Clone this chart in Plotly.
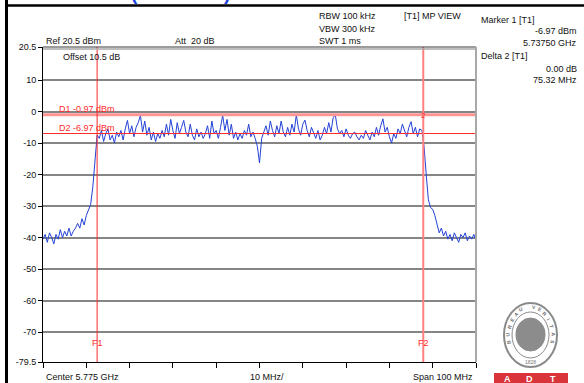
import math
import plotly.graph_objects as go

# ---------------- data ----------------
center_ghz = 5.775
span_ghz = 0.100
step_mhz = 0.5
# trace level (dBm) every 0.5 MHz from start (5.725 GHz) to stop (5.825 GHz)
level_lower_skirt = [-40.5, -39, -41.5, -38.5, -40, -42, -39, -40.5, -37.5, -40, -38, -39.5, -37, -39.5,
                     -38, -37, -35.5, -37, -34, -36, -33, -31, -29.5, -24, -16, -7.5]
level_in_band = [
    -8.5, -6, -9.5, -7, -5.5, -9, -7.5, -10, -6.5, -8,
    -6, -9, -5.5, -2.8, -7, -4.5, -8, -5, -3.5, -1.2,
    -6.5, -3, -7.5, -5, -9, -6.5, -9.5, -7, -8.5, -6,
    -8, -4, -7.5, -2.5, -6, -8.5, -3.5, -7, -5, -2.8,
    -6.5, -8, -4, -7.5, -9, -5.5, -8, -6.5, -8.5, -7,
    -4.5, -8.5, -3, -7, -6, -8.5, -5, -1.2, -6, -2.5,
    -7.5, -4, -8.5, -6.5, -9, -7, -8.5, -6, -7.5, -4,
    -8, -6.5, -8.5, -11, -16.3, -8.5, -6.5, -4.5, -7.5, -3,
    -6, -8, -4.5, -7, -3, -6.5, -8, -5, -7.5, -4,
    -6.5, -1, -5.5, -7.5, -4, -2.7, -6, -8, -5, -7,
    -8.5, -6, -9, -7.5, -5, -7, -3.5, -6.5, -2, -1,
    -5.5, -7, -6, -8, -5.5, -7.5, -8.5, -7, -6.5, -8,
    -9, -7.5, -8.5, -6, -7.5, -9, -6.5, -8, -5, -7.5,
    -4.5, -2.3, -6.5, -5, -8, -10, -7, -8.5, -5.5, -7,
    -4, -6, -8, -5, -3.2, -7, -5, -8, -5.5, -6,
]
level_upper_skirt = [-11, -20, -28, -30.5, -31, -33, -36, -38.5, -37, -39.5,
                     -38, -40.5, -39, -41, -38.5, -40, -41.5, -39, -40, -38.5, -41, -39.5, -40.5, -39, -41]
levels = level_lower_skirt + level_in_band + level_upper_skirt

ref_level = 20.5
bottom_level = -79.5
y_ticks = [20.5, 10, 0, -10, -20, -30, -40, -50, -60, -70, -79.5]
y_ticktext = ["20.5", "10", "0", "-10", "-20", "-30", "-40", "-50", "-60", "-70", "-79.5"]

d1_level = -0.97
d2_level = -6.97
f1_ghz = 5.73750
f2_ghz = 5.73750 + 0.07532

start = center_ghz - span_ghz / 2
stop = center_ghz + span_ghz / 2
freqs = [start + i * step_mhz / 1000 for i in range(len(levels))]
x_ticks = [start + i * 0.01 for i in range(11)]

# ---------------- layout helpers ----------------
W, H = 584, 383
L, R, T, B = 43, 476, 47, 362


def px(x):
    return (x - L) / (R - L)


def py(y):
    return (B - y) / (B - T)


FONT = "Liberation Sans, Arial, sans-serif"
RED = "#ff2a2a"
PINK = "#ff9494"

fig = go.Figure()
fig.add_trace(go.Scatter(x=freqs, y=levels, mode="lines",
                         line=dict(color="#2342d6", width=1), hoverinfo="skip",
                         showlegend=False))

shapes = []
# D1 / D2 lines
shapes.append(dict(type="line", xref="paper", yref="y", x0=0, x1=1, y0=d1_level, y1=d1_level,
                   line=dict(color=PINK, width=3)))
shapes.append(dict(type="line", xref="paper", yref="y", x0=0, x1=1, y0=d2_level, y1=d2_level,
                   line=dict(color=RED, width=1)))
# F1 / F2 lines
shapes.append(dict(type="line", xref="x", yref="paper", x0=f1_ghz, x1=f1_ghz, y0=0, y1=1,
                   line=dict(color=RED, width=1)))
shapes.append(dict(type="line", xref="x", yref="paper", x0=f2_ghz, x1=f2_ghz, y0=0, y1=1,
                   line=dict(color="#ff8080", width=2)))
# top frame (double line)
shapes.append(dict(type="line", xref="paper", yref="paper", x0=0, x1=1, y0=1, y1=1,
                   line=dict(color="#3a3a3a", width=1.2)))
shapes.append(dict(type="line", xref="paper", yref="paper", x0=0, x1=1, y0=py(T + 2), y1=py(T + 2),
                   line=dict(color="#a8a8a8", width=1.5)))
# right frame
shapes.append(dict(type="line", xref="paper", yref="paper", x0=1, x1=1, y0=0, y1=1,
                   line=dict(color="#a8a8a8", width=2)))
# outer black border lines
shapes.append(dict(type="line", xref="paper", yref="paper", x0=px(6.5), x1=px(6.5), y0=py(0), y1=py(H),
                   line=dict(color="#000000", width=3)))
shapes.append(dict(type="line", xref="paper", yref="paper", x0=px(6.5), x1=px(W), y0=py(5.5), y1=py(5.5),
                   line=dict(color="#000000", width=2.5)))
# logo
shapes.append(dict(type="circle", xref="paper", yref="paper", x0=px(504), x1=px(557), y0=py(367), y1=py(303),
                   line=dict(color="#8a8a8a", width=2), fillcolor="#ffffff"))
shapes.append(dict(type="circle", xref="paper", yref="paper", x0=px(512), x1=px(549), y0=py(358), y1=py(312),
                   line=dict(color="#8a8a8a", width=1), fillcolor="#ffffff"))
shapes.append(dict(type="circle", xref="paper", yref="paper", x0=px(516), x1=px(545), y0=py(351), y1=py(318),
                   line=dict(color="#8a8a8a", width=1), fillcolor="#8c8c8c"))
shapes.append(dict(type="rect", xref="paper", yref="paper", x0=px(494), x1=px(568), y0=py(384), y1=py(373),
                   line=dict(width=0), fillcolor="#d9343a"))
fig.update_layout(shapes=shapes)

ann = []


def text(x, y, s, anchor="left", size=9, color="#111111", angle=0):
    ann.append(dict(xref="paper", yref="paper", x=px(x), y=py(y), text=s, showarrow=False,
                    xanchor=anchor, yanchor="middle", font=dict(family=FONT, size=size, color=color),
                    borderpad=0, textangle=angle))


text(45, 41, "Ref 20.5 dBm")
text(174, 41, "Att  20 dB")
text(62, 57, "Offset 10.5 dB")
text(318, 16, "RBW 100 kHz")
text(318, 29, "VBW 300 kHz")
text(318, 41, "SWT 1 ms")
text(403, 16, "[T1] MP VIEW")
text(480, 20, "Marker 1 [T1]")
text(578, 31, "-6.97 dBm", anchor="right")
text(578, 43, "5.73750 GHz", anchor="right")
text(480, 56, "Delta 2 [T1]")
text(578, 69, "0.00 dB", anchor="right")
text(578, 80, "75.32 MHz", anchor="right")
text(45, 377, "Center 5.775 GHz")
text(249, 377, "10 MHz/")
text(474, 377, "Span 100 MHz", anchor="right")
text(58, 109, "D1 -0.97 dBm", color=RED)
text(58, 128, "D2 -6.97 dBm", color=RED)
text(97, 343, "F1", anchor="center", color=RED)
text(423, 343, "F2", anchor="center", color=RED)
text(423, 115, "2", anchor="center", size=8, color=RED)
text(530.5, 362, "1828", anchor="center", size=5, color="#777777")
text(507, 379, "<b>A</b>", anchor="center", size=9, color="#ffffff")
text(529, 379, "<b>D</b>", anchor="center", size=9, color="#ffffff")
text(553, 379, "<b>T</b>", anchor="center", size=9, color="#ffffff")
# arc lettering of the logo ring
logo_word = "BUREAU VERITAS"
cx, cy, ra, rb = 530.5, 335, 22.5, 28
n = len(logo_word)
for i, ch in enumerate(logo_word):
    if ch == " ":
        continue
    t = 195 - i * (210 / (n - 1))
    tr = math.radians(t)
    text(cx + ra * math.cos(tr), cy - rb * math.sin(tr), "<b>" + ch + "</b>", anchor="center",
         size=5, color="#6f6f6f", angle=90 - t)
# partially clipped blue heading at the very top
ann.append(dict(xref="paper", yref="paper", x=px(180), y=py(5), text="<b>(5775 MHz)</b>", showarrow=False,
                xanchor="center", yanchor="bottom", font=dict(family=FONT, size=19, color="#1a3fe0"),
                borderpad=0))
fig.update_layout(annotations=ann)

fig.update_xaxes(range=[start, stop], tickvals=x_ticks, showticklabels=False, ticks="outside",
                 ticklen=5, tickcolor="#000000", tickwidth=1, showline=True, linecolor="#000000",
                 linewidth=1, showgrid=False, zeroline=False, fixedrange=True)
fig.update_yaxes(range=[bottom_level, ref_level], tickvals=y_ticks, ticktext=y_ticktext,
                 ticks="outside", ticklen=4, tickcolor="#000000", tickwidth=1,
                 showline=True, linecolor="#000000", linewidth=1,
                 showgrid=True, gridcolor="#858585", gridwidth=1.5, zeroline=False,
                 tickfont=dict(family=FONT, size=9, color="#111111"), fixedrange=True)

fig.update_layout(width=W, height=H, margin=dict(l=L, r=W - R, t=T, b=H - B),
                  paper_bgcolor="#ffffff", plot_bgcolor="#ffffff", showlegend=False,
                  font=dict(family=FONT))

fig.write_html("out.html", config={"displayModeBar": False},
               post_script="document.body.style.margin='0px';document.body.style.overflow='hidden';")
